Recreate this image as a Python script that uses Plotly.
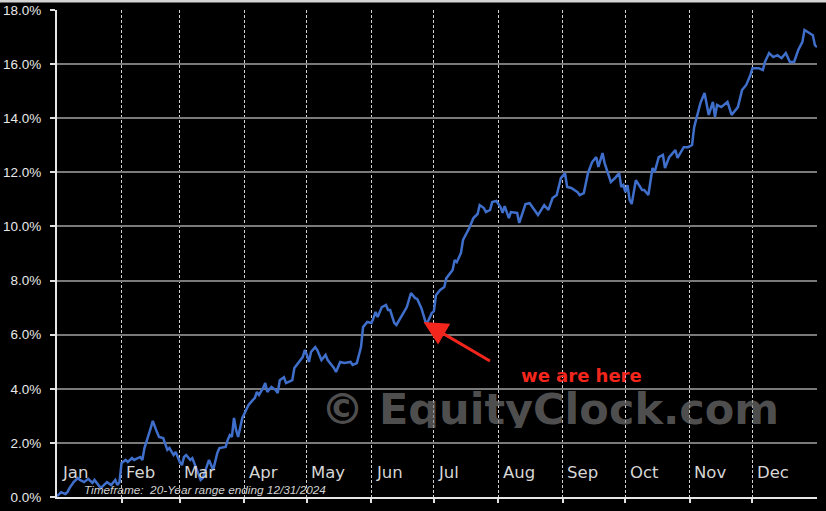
import plotly.graph_objs as go

# seasonal profile: day of year vs average cumulative return (%)
days = [0, 2, 4, 5, 6, 8, 10, 11, 13, 15, 17, 18, 21, 22, 24, 26, 28, 29, 30,
        31, 33, 34, 36, 37, 40, 41, 42, 45, 46, 48, 49, 51, 53, 54, 56, 57, 59, 60,
        61, 62, 64, 65, 67, 69, 70, 72, 73, 75, 77, 78, 81, 82, 83, 84, 85, 86, 87, 89, 90,
        92, 94, 95, 96, 97, 99, 100, 101, 103, 105, 106, 107, 109, 110, 113, 114, 116, 118, 119, 120,
        121, 122, 124, 125, 127, 129, 130, 133, 134, 136, 138, 141, 142, 144, 146, 147, 149, 151,
        152, 153, 154, 156, 158, 159, 160, 162, 163, 166, 168, 170, 172, 173, 175, 177, 178, 180, 181,
        182, 184, 186, 187, 190, 191, 192, 194, 195, 197, 198, 200, 202, 203, 205, 206, 208, 209, 211,
        213, 214, 215, 217, 218, 221, 222, 225, 227, 230, 231, 234, 236, 238, 240, 242, 244,
        245, 247, 250, 251, 253, 255, 257, 259, 260, 262, 263, 266, 268, 270, 271, 272, 273,
        274, 275, 276, 278, 279, 281, 282, 284, 286, 287, 289, 291, 292, 294, 297, 298, 301, 303, 305,
        306, 309, 311, 313, 315, 316, 317, 319, 322, 324, 327, 329, 331, 333, 334,
        337, 339, 340, 342, 344, 346, 348, 350, 352, 354, 356, 358, 359, 361, 363, 364, 365]
returns = [0.03, 0.18, 0.11, 0.18, 0.33, 0.55, 0.70, 0.63, 0.55, 0.67, 0.52, 0.63, 0.33, 0.41, 0.55, 0.44, 0.63, 0.44, 0.55,
           1.26, 1.37, 1.29, 1.44, 1.37, 1.48, 1.37, 1.81, 2.55, 2.81, 2.40, 2.22, 2.18, 1.74, 1.81, 1.55, 1.66, 1.29, 1.18,
           1.48, 1.55, 1.37, 1.44, 1.00, 0.63, 0.70, 1.11, 1.37, 1.00, 1.63, 1.81, 1.85, 2.11, 2.29, 2.22, 2.92, 2.48, 2.22, 2.92, 3.10,
           3.40, 3.58, 3.66, 3.88, 3.77, 4.03, 4.21, 3.88, 4.07, 3.95, 3.84, 4.32, 4.43, 4.21, 4.32, 4.77, 4.99, 5.17, 5.43, 5.25,
           4.99, 5.36, 5.54, 5.43, 5.06, 5.25, 5.06, 4.77, 4.62, 4.99, 4.95, 4.99, 4.88, 4.95, 5.54, 6.28, 6.47, 6.43,
           6.61, 6.84, 6.65, 7.02, 7.10, 6.91, 6.91, 6.43, 6.36, 6.73, 7.02, 7.54, 7.35, 7.32, 6.98, 6.47, 6.47, 6.80, 6.87,
           7.46, 7.65, 7.76, 8.09, 8.39, 8.76, 8.68, 9.02, 9.50, 9.79, 9.94, 10.31, 10.46, 10.79, 10.68, 10.53, 10.61, 10.90, 10.94,
           10.72, 10.50, 10.75, 10.31, 10.53, 10.50, 10.13, 10.83, 10.86, 10.53, 10.42, 10.79, 10.61, 11.05, 11.16, 11.79, 11.97,
           11.46, 11.42, 11.27, 11.16, 11.23, 11.97, 12.38, 12.56, 12.20, 12.71, 12.34, 11.64, 11.79, 11.97, 11.46, 11.53, 11.27,
           11.53, 10.98, 10.83, 11.71, 11.60, 11.35, 11.35, 11.16, 12.16, 12.01, 12.56, 12.64, 12.16, 12.56, 12.82, 12.53, 12.93, 12.93, 13.01,
           13.67, 14.56, 14.93, 14.12, 14.60, 14.04, 14.49, 14.41, 14.60, 14.12, 14.41, 15.04, 15.23, 15.59, 15.85,
           15.85, 15.78, 16.08, 16.41, 16.26, 16.33, 16.22, 16.41, 16.08, 16.08, 16.52, 16.82, 17.26, 17.15, 17.07, 16.70, 16.63]

month_names = ['Jan', 'Feb', 'Mar', 'Apr', 'May', 'Jun', 'Jul', 'Aug', 'Sep', 'Oct', 'Nov', 'Dec']
month_starts = [0, 31, 59, 90, 120, 151, 181, 212, 243, 273, 304, 334]
y_ticks = [0, 2, 4, 6, 8, 10, 12, 14, 16, 18]

we_are_here = (176, 6.47)

TICK_FONT = {'family': 'Liberation Sans, Arial', 'size': 13.5, 'color': '#e8e8e8'}

traces = [go.Scatter(x=days, y=returns, mode='lines',
                     line={'color': '#3f6fca', 'width': 2.5},
                     hoverinfo='skip', showlegend=False)]

annotations = []
for name, start in zip(month_names, month_starts):
    annotations.append({'x': start + 1.2, 'y': 0.9, 'xref': 'x', 'yref': 'y',
                        'text': name, 'showarrow': False,
                        'xanchor': 'left', 'yanchor': 'middle',
                        'font': {'family': 'DejaVu Sans, Verdana', 'size': 16.5, 'color': '#d6d6d6'}})

annotations.append({'x': 12, 'y': 0.26, 'xref': 'x', 'yref': 'y',
                    'text': '<i>Timeframe:  20-Year range ending 12/31/2024</i>', 'showarrow': False,
                    'xanchor': 'left', 'yanchor': 'middle',
                    'font': {'family': 'Liberation Sans, Arial', 'size': 11.8, 'color': '#d0d0d0'}})

annotations.append({'x': 237, 'y': 3.24, 'xref': 'x', 'yref': 'y',
                    'text': '<b>\u00a9 EquityClock.com</b>', 'showarrow': False, 'height': 38,
                    'xanchor': 'center', 'yanchor': 'middle',
                    'font': {'family': 'DejaVu Sans, Verdana', 'size': 43, 'color': 'rgba(125,125,125,0.65)'}})

annotations.append({'x': we_are_here[0], 'y': we_are_here[1], 'xref': 'x', 'yref': 'y',
                    'text': '', 'showarrow': True, 'ax': 68, 'ay': 40,
                    'arrowhead': 2, 'arrowsize': 1.6, 'arrowwidth': 3, 'arrowcolor': '#f2261c'})

annotations.append({'x': 252, 'y': 4.52, 'xref': 'x', 'yref': 'y',
                    'text': '<b>we are here</b>', 'showarrow': False, 'height': 16,
                    'xanchor': 'center', 'yanchor': 'middle',
                    'font': {'family': 'DejaVu Sans, Verdana', 'size': 18, 'color': '#f2261c'}})

layout = dict()
layout['width'] = 826
layout['height'] = 511
layout['margin'] = {'l': 57, 'r': 9, 't': 10, 'b': 14, 'pad': 0}
layout['paper_bgcolor'] = '#000000'
layout['plot_bgcolor'] = '#000000'
layout['showlegend'] = False
layout['xaxis'] = go.layout.XAxis({'range': [0, 365],
                                   'tickvals': month_starts[1:],
                                   'showticklabels': False,
                                   'ticks': 'outside', 'ticklen': 4, 'tickcolor': '#e0e0e0', 'tickwidth': 1.5,
                                   'showgrid': True, 'gridcolor': '#d0d0d0', 'gridwidth': 1,
                                   'griddash': '3px,2px',
                                   'showline': True, 'linecolor': '#e6e6e6', 'linewidth': 2,
                                   'zeroline': False, 'fixedrange': True, 'automargin': False})
layout['yaxis'] = go.layout.YAxis({'range': [0, 18],
                                   'tickvals': y_ticks,
                                   'ticktext': ['{:.1f}%'.format(v) for v in y_ticks],
                                   'tickfont': TICK_FONT,
                                   'ticks': 'outside', 'ticklen': 5, 'tickcolor': '#e0e0e0', 'tickwidth': 1.5,
                                   'ticklabelstandoff': 6,
                                   'showgrid': True, 'gridcolor': '#7a7a7a', 'gridwidth': 1.5,
                                   'showline': True, 'linecolor': '#e6e6e6', 'linewidth': 2,
                                   'zeroline': False, 'fixedrange': True, 'automargin': False})
layout['annotations'] = annotations
layout['shapes'] = [{'type': 'rect', 'xref': 'paper', 'yref': 'paper',
                     'x0': -0.08, 'x1': 1.02, 'y0': 1.0155, 'y1': 1.03,
                     'fillcolor': '#d4d4d4', 'line': {'width': 0}}]

fig = go.Figure(data=traces, layout=go.Layout(layout))
fig.write_html('out.html', config={'displayModeBar': False},
               post_script="document.body.style.margin='0';document.body.style.background='#000';")
